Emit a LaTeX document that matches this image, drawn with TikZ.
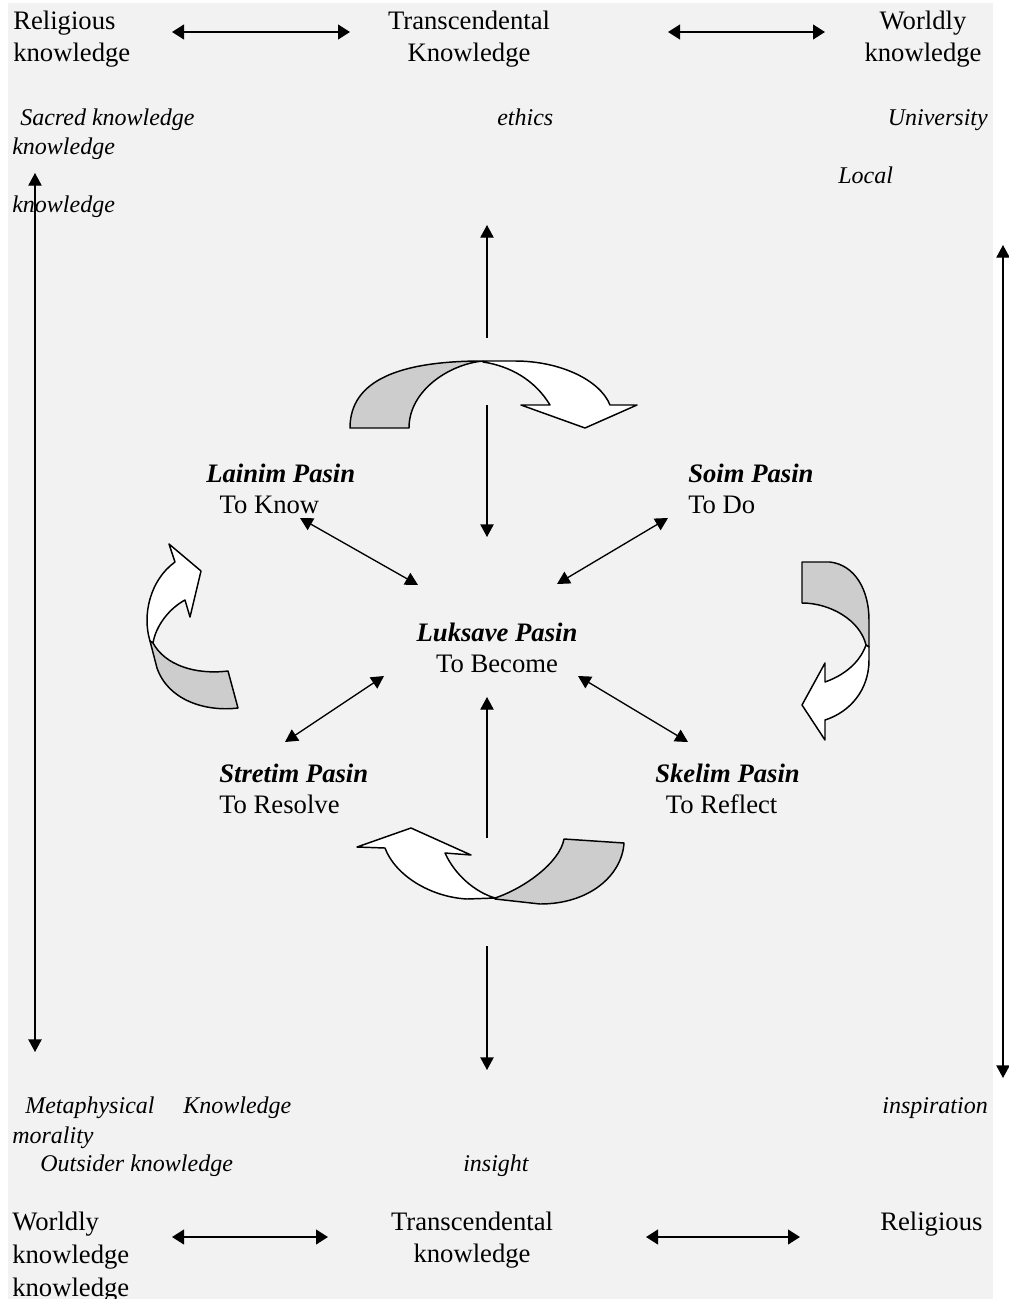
\documentclass[tikz,border=0pt]{standalone}
\usepackage{fontspec}
\setmainfont{Liberation Serif}
\usetikzlibrary{arrows.meta}
\definecolor{paper}{HTML}{F2F2F2}
\definecolor{band}{HTML}{CDCDCD}
\begin{document}
\begin{tikzpicture}[x=0.75pt,y=-0.75pt,
    lbl/.style={font=\fontsize{20}{24.5}\selectfont, inner sep=0pt},
    note/.style={font=\fontsize{18}{22}\selectfont\itshape, inner sep=0pt, anchor=base west},
    way/.style={font=\fontsize{20}{23.5}\selectfont, align=left, inner sep=0pt},
    link/.style={line width=1pt, -{Triangle[length=9.5pt,width=10pt]}},
    twoway/.style={line width=1pt, {Triangle[length=9.5pt,width=10pt]}-{Triangle[length=9.5pt,width=10pt]}},
    bigway/.style={line width=1.6pt, {Triangle[length=9pt,width=11pt]}-{Triangle[length=9pt,width=11pt]}},
    turn/.style={draw, line width=1.1pt, fill=white, line join=round},
    turnback/.style={turn, fill=band}]
            \useasboundingbox (0,0) rectangle (1008,1299);
            \fill[paper] (8,3) rectangle (993,1299);

            % Nodes
            \node[lbl, anchor=west, align=left] (rel_top) at (13,39) {Religious\\knowledge};
            \node[lbl, align=center] (trans_top) at (469,39) {Transcendental\\Knowledge};
            \node[lbl, align=center] (world_top) at (923,39) {Worldly\\knowledge};

            \node[note] (sacred) at (20,125) {Sacred knowledge};
            \node[note] (know_a) at (12,154) {knowledge};
            \node[note] (ethics) at (497,125) {ethics};
            \node[note, anchor=base east] (university) at (988,125) {University};
            \node[note] (local) at (838,183) {Local};
            \node[note] (know_b) at (12,212) {knowledge};

            \node[way, anchor=west] (lainim) at (206,489) {\textbf{\textit{Lainim Pasin}}\\\hspace*{0.5em}To Know};
            \node[way, anchor=west] (soim) at (688,489) {\textbf{\textit{Soim Pasin}}\\To Do};
            \node[way, align=center] (luksave) at (497,648) {\textbf{\textit{Luksave Pasin}}\\To Become};
            \node[way, anchor=west] (stretim) at (219,789) {\textbf{\textit{Stretim Pasin}}\\To Resolve};
            \node[way, anchor=west] (skelim) at (655,789) {\textbf{\textit{Skelim Pasin}}\\\hspace*{0.4em}To Reflect};

            \node[note] (metaphys) at (25,1113) {Metaphysical\hspace{1.2em}Knowledge};
            \node[note] (morality) at (12,1143) {morality};
            \node[note] (outsider) at (40,1171) {Outsider knowledge};
            \node[note] (insight) at (463,1171) {insight};
            \node[note, anchor=base east] (inspiration) at (988,1113) {inspiration};

            \node[lbl, anchor=west, align=left] (world_bot) at (12,1257) {Worldly\\knowledge\\knowledge};
            \node[lbl, align=center] (trans_bot) at (472,1240) {Transcendental\\knowledge};
            \node[lbl, anchor=west] (rel_bot) at (880,1224) {Religious};

            % Arrow ends
            \coordinate (top_l1) at (172,32);  \coordinate (top_l2) at (350,32);
            \coordinate (top_r1) at (668,32);  \coordinate (top_r2) at (825,32);
            \coordinate (bot_l1) at (172,1237); \coordinate (bot_l2) at (328,1237);
            \coordinate (bot_r1) at (646,1237); \coordinate (bot_r2) at (800,1237);
            \coordinate (side_l1) at (35,173);  \coordinate (side_l2) at (35,1052);
            \coordinate (side_r1) at (1003,245); \coordinate (side_r2) at (1003,1078);
            \coordinate (up_a1) at (487,338);  \coordinate (up_a2) at (487,225);
            \coordinate (up_b1) at (487,405);  \coordinate (up_b2) at (487,537);
            \coordinate (dn_a1) at (487,838);  \coordinate (dn_a2) at (487,697);
            \coordinate (dn_b1) at (487,946);  \coordinate (dn_b2) at (487,1070);
            \coordinate (diag_a1) at (300,518); \coordinate (diag_a2) at (418,585);
            \coordinate (diag_b1) at (668,518); \coordinate (diag_b2) at (557,584);
            \coordinate (diag_c1) at (384,676); \coordinate (diag_c2) at (285,742);
            \coordinate (diag_d1) at (578,676); \coordinate (diag_d2) at (688,742);

            % Arrows
            \draw[bigway] (top_l1) -- (top_l2);
            \draw[bigway] (top_r1) -- (top_r2);
            \draw[bigway] (bot_l1) -- (bot_l2);
            \draw[bigway] (bot_r1) -- (bot_r2);
            \draw[twoway] (side_l1) -- (side_l2);
            \draw[twoway] (side_r1) -- (side_r2);
            \draw[link] (up_a1) -- (up_a2);
            \draw[link] (up_b1) -- (up_b2);
            \draw[link] (dn_a1) -- (dn_a2);
            \draw[link] (dn_b1) -- (dn_b2);
            \draw[twoway] (diag_a1) -- (diag_a2);
            \draw[twoway] (diag_b1) -- (diag_b2);
            \draw[twoway] (diag_c1) -- (diag_c2);
            \draw[twoway] (diag_d1) -- (diag_d2);

            % Curved arrows
            \draw[turnback] (350,428) .. controls (350,380) and (400,361) .. (483,361)
                .. controls (450,364) and (409,390) .. (409,428) -- cycle;
            \draw[turn] (483,361) -- (515,361) .. controls (560,361) and (600,380) .. (610,405)
                -- (637,405) -- (585,428) -- (521,405) -- (550,405)
                .. controls (535,380) and (510,366) .. (483,362) -- cycle;

            \draw[turn] (175,562) -- (169,544) -- (201,571) -- (190,617) -- (185,600)
                .. controls (170,608) and (156,625) .. (153,643) -- (150,641)
                .. controls (142,615) and (150,580) .. (175,562) -- cycle;
            \draw[turnback] (150,641) -- (157,668) .. controls (168,700) and (205,712) .. (238,708)
                -- (228,671) .. controls (195,675) and (165,665) .. (153,643) -- cycle;

            \draw[turnback] (802,562) -- (830,562) .. controls (855,565) and (869,590) .. (869,620)
                -- (869,647) -- (866,645) .. controls (860,620) and (830,603) .. (802,603) -- cycle;
            \draw[turn] (869,647) -- (869,660) .. controls (869,690) and (850,712) .. (825,720)
                -- (825,740) -- (802,705) -- (825,663) -- (825,682)
                .. controls (845,675) and (860,662) .. (866,645) -- cycle;

            \draw[turn] (385,848) -- (357,847) -- (411,828) -- (471,855) -- (445,853)
                .. controls (455,875) and (475,892) .. (495,898) -- (467,899)
                .. controls (430,897) and (395,875) .. (385,848) -- cycle;
            \draw[turnback] (495,898) .. controls (525,888) and (560,862) .. (564,839)
                -- (624,843) .. controls (622,875) and (590,904) .. (540,904) -- (495,899) -- cycle;
        \end{tikzpicture}
\end{document}
